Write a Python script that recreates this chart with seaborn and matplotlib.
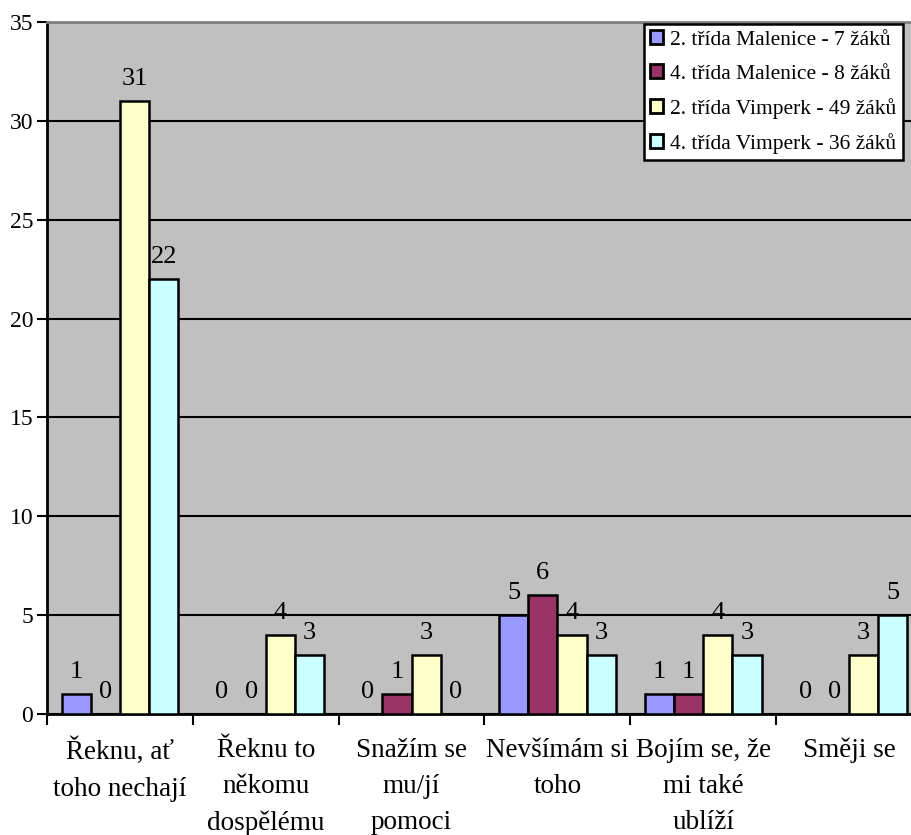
import matplotlib
matplotlib.use("Agg")
import matplotlib.pyplot as plt
import seaborn as sns
import pandas as pd
import numpy as np

categories = ["Řeknu, ať\ntoho nechají", "Řeknu to\nněkomu\ndospělému", "Snažím se\nmu/jí\npomoci",
              "Nevšímám si\ntoho", "Bojím se, že\nmi také\nublíží", "Směji se"]
series = ["2. třída Malenice - 7 žáků", "4. třída Malenice - 8 žáků",
          "2. třída Vimperk - 49 žáků", "4. třída Vimperk - 36 žáků"]
malenice2 = [1, 0, 0, 5, 1, 0]
malenice4 = [0, 0, 1, 6, 1, 0]
vimperk2 = [31, 4, 3, 4, 4, 3]
vimperk4 = [22, 3, 0, 3, 3, 5]
colors = ["#9999FF", "#993366", "#FFFFCC", "#CCFFFF"]

rows = []
for s, vals in zip(series, [malenice2, malenice4, vimperk2, vimperk4]):
    for c, v in zip(categories, vals):
        rows.append({"cat": c, "series": s, "value": v})
df = pd.DataFrame(rows)

sns.set_style("white")
plt.rcParams['font.family'] = ['Liberation Serif', 'DejaVu Serif']
plt.rcParams['text.color'] = 'black'
plt.rcParams['xtick.color'] = 'black'
plt.rcParams['ytick.color'] = 'black'
plt.rcParams['axes.labelcolor'] = 'black'

fig = plt.figure(figsize=(9.12, 8.35), dpi=100)
W, H = 912, 835
ax = fig.add_axes([47 / W, (H - 714) / H, 875 / W, (714 - 22) / H])
ax.set_facecolor("#C0C0C0")

sns.barplot(data=df, x="cat", y="value", hue="series", hue_order=series, order=categories,
            palette=colors, width=0.8, edgecolor="black", linewidth=1.8, saturation=1,
            ax=ax, legend=True, zorder=3)

for cont in ax.containers:
    ax.bar_label(cont, padding=8, fontsize=19, color="black", zorder=4)

ax.set_ylim(0, 35)
ax.set_xlim(-0.5, 5.5)
ax.set_yticks(np.arange(0, 36, 5))
ax.yaxis.grid(True, color="black", linewidth=1.5, zorder=1)
ax.set_axisbelow(True)
ax.set_xlabel("")
ax.set_ylabel("")

ax.tick_params(axis="y", labelsize=17, length=7, width=1.5, direction="out", left=True, pad=3,
               colors="black", labelcolor="black")
ax.set_xticks(range(len(categories)))
ax.set_xticklabels(categories, fontsize=19.5, linespacing=1.6, va="top", color="black")
ax.tick_params(axis="x", which="major", length=0, pad=17)
ax.set_xticks(np.arange(-0.5, 6.0, 1.0), minor=True)
ax.tick_params(axis="x", which="minor", length=8, width=1.5, direction="out", bottom=True, color="black")

for side in ["left", "bottom"]:
    ax.spines[side].set_color("black")
    ax.spines[side].set_linewidth(2)
ax.spines["top"].set_color("#808080")
ax.spines["top"].set_linewidth(2)
ax.spines["right"].set_visible(False)

handles, labels = ax.get_legend_handles_labels()
for h in handles:
    h.set_linewidth(2)
leg = ax.legend(handles, labels, loc="upper left", bbox_to_anchor=(644 / W, 1 - 24 / H),
                bbox_transform=fig.transFigure, fontsize=15.5, frameon=True, fancybox=False,
                handlelength=0.6, handleheight=0.6, handletextpad=0.3, labelspacing=0.66,
                borderpad=0.3, borderaxespad=0, labelcolor="black")
leg.get_frame().set_edgecolor("black")
leg.get_frame().set_linewidth(1.8)
leg.get_frame().set_facecolor("white")
leg.get_frame().set_alpha(1)
leg.set_zorder(10)

fig.savefig("out.png", dpi=100, facecolor="white")
